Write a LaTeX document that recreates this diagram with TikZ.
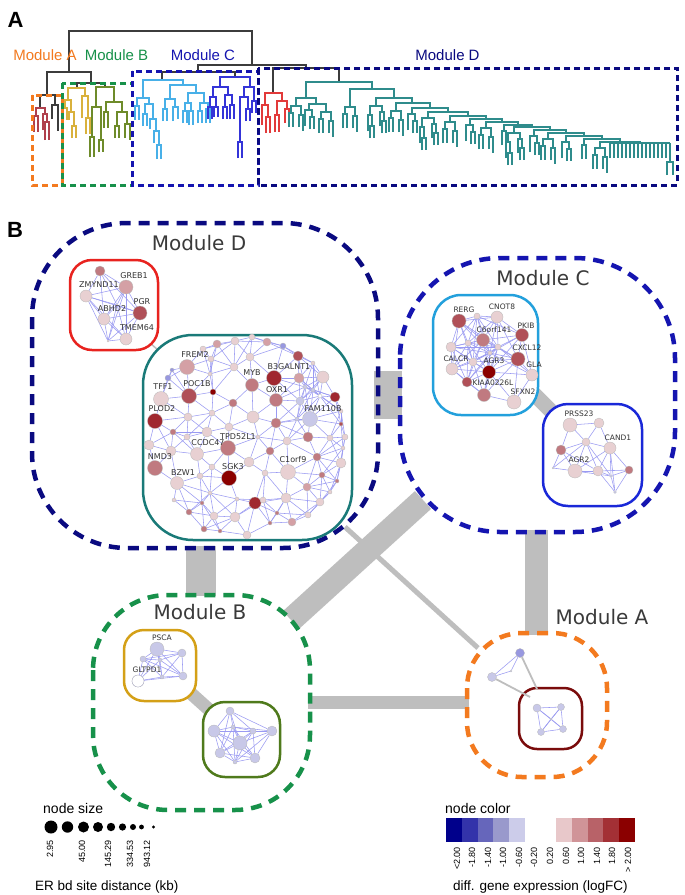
\documentclass[tikz,border=0pt]{standalone}
\usepackage{fontspec}
\setmainfont{Liberation Sans}
\newfontfamily\dv{DejaVu Sans}
\pgfdeclarelayer{back}
\pgfdeclarelayer{bg}
\pgfsetlayers{back,bg,main}
\definecolor{dgray}{HTML}{3C3C3C}
\definecolor{orA}{HTML}{F37A1F}
\definecolor{grB}{HTML}{17914A}
\definecolor{blC}{HTML}{1515B0}
\definecolor{nvD}{HTML}{0A0A80}
\definecolor{trA}{HTML}{B0404C}
\definecolor{trY}{HTML}{D9B13C}
\definecolor{trO}{HTML}{6E8B2A}
\definecolor{trLB}{HTML}{48B0E8}
\definecolor{trB}{HTML}{3434D8}
\definecolor{trR}{HTML}{E23A3A}
\definecolor{trT}{HTML}{2F8C8C}
\definecolor{glinkc}{HTML}{BEBEBE}
\definecolor{edgec}{HTML}{9A9AF2}
\definecolor{labc}{HTML}{333333}
\definecolor{labc2}{HTML}{3A3A3A}
\definecolor{bxR}{HTML}{E8231F}
\definecolor{bxT}{HTML}{1A7A78}
\definecolor{bxLB}{HTML}{23A0DC}
\definecolor{bxB}{HTML}{1A28D8}
\definecolor{bxY}{HTML}{D4A017}
\definecolor{bxO}{HTML}{4F7A1C}
\definecolor{bxDR}{HTML}{7A0C0C}
\definecolor{n0}{HTML}{C8C8E8}
\definecolor{n1}{HTML}{E8D0D2}
\definecolor{n2}{HTML}{D4A0A5}
\definecolor{n3}{HTML}{C07A80}
\definecolor{n4}{HTML}{B05058}
\definecolor{n5}{HTML}{A02830}
\definecolor{n6}{HTML}{8B0000}
\definecolor{nb}{HTML}{9898E0}
\definecolor{nw}{HTML}{FFFFFF}
\definecolor{lc1}{HTML}{00008B}
\definecolor{lc2}{HTML}{3333AA}
\definecolor{lc3}{HTML}{6666BB}
\definecolor{lc4}{HTML}{9999CC}
\definecolor{lc5}{HTML}{CCCCEA}
\definecolor{lc6}{HTML}{E8C8CA}
\definecolor{lc7}{HTML}{D09498}
\definecolor{lc8}{HTML}{B86268}
\definecolor{lc9}{HTML}{A33035}
\definecolor{lc10}{HTML}{8B0000}
\tikzset{
  gn/.style={circle, inner sep=0pt, draw=black!28, line width=0.3pt},
  edge/.style={draw=edgec, line width=0.55pt},
  glink/.style={draw=glinkc, line cap=butt},
  mdash/.style={line width=4.5pt, dash pattern=on 11pt off 8pt},
  adash/.style={line width=3pt, dash pattern=on 6pt off 4pt},
  grp/.style={line width=2.5pt, fill=white},
  gl/.style={font=\dv\fontsize{8}{9}\selectfont, text=labc, inner sep=0pt},
  gls/.style={font=\dv\fontsize{7.5}{9}\selectfont, text=labc, inner sep=0pt},
  ml/.style={font=\dv\fontsize{20}{24}\selectfont, text=labc2, inner sep=0pt},
  al/.style={font=\fontsize{15}{18}\selectfont, inner sep=0pt},
  lg/.style={font=\fontsize{9}{10}\selectfont, rotate=90, anchor=east, inner sep=0pt},
  lt/.style={font=\fontsize{14}{16}\selectfont, anchor=west, inner sep=0pt},
}
\newcommand\U[5]{\draw (#1,#3+#4) -- (#1,#3) -- (#2,#3) -- (#2,#3+#5);}
\newcommand\cA[2]{\begin{scope}[shift={(#1,#2)}]\U{-4}{3}{0}{16}{7}\U{1}{5}{7}{12}{12}\end{scope}}
\newcommand\cB[2]{\begin{scope}[shift={(#1,#2)}]\U{-5}{5}{0}{7}{9}\U{-7}{-3}{7}{14}{14}\U{3}{7}{9}{12}{16}\end{scope}}
\newcommand\cC[2]{\begin{scope}[shift={(#1,#2)}]\U{-2}{2}{0}{14}{14}\end{scope}}
\newcommand\cD[2]{\begin{scope}[shift={(#1,#2)}]\U{-6}{6}{0}{9}{6}\U{-8}{-4}{9}{16}{11}\U{-6}{-2}{20}{12}{12}\U{4}{8}{6}{14}{9}\U{6}{10}{15}{12}{12}\end{scope}}
\newcommand\net[3]{%
  \foreach \px/\py/\pr/\pc [count=\i] in #2 {%
    \node[gn, minimum size={2*\pr}, fill=\pc] (#1\i) at (\px,\py) {};}%
  \begin{pgfonlayer}{bg}%
  \foreach \px/\py/\pr/\pc [count=\i] in #2 {%
    \foreach \qx/\qy/\qr/\qc [count=\j] in #2 {%
      \ifnum\j>\i
        \pgfmathtruncatemacro\ok{veclen(\px-\qx,\py-\qy)<#3}%
        \ifnum\ok=1 \draw[edge] (#1\i) -- (#1\j);\fi
      \fi}}%
  \end{pgfonlayer}}
\def\LDr{100/271/5/n3,126/287/7/n2,86/296/6/n1,140/313/7/n4,104/319/6/n1,126/339/6/n1,108/341/1/n1,117/305/1/n1}
\def\LDt{187/367/7.5/n2,161/399/7.5/n1,189/396/7.5/n4,213/392/3/n6,252/385/6.5/n3,274/378/7.5/n5,276/400/6.5/n3,310/419/7.5/n0,155/421/7.5/n5,197/454/6.5/n1,228/448/7.5/n3,155/468/7.5/n3,177/483/6.5/n1,229/478/7.5/n6,288/472/7.5/n1,255/503/6/n5,217/344/4/n2,235/341/4/n1,252/337/3/n1,267/342/4/n2,283/346/3/nb,298/356/5/n4,313/363/2/n1,323/377/6/n1,299/378/5/n2,335/397/5/n5,300/401/4/n0,320/396/2/nw,297/419/2/n0,341/411/2/n1,341/424/2/n4,345/437/3/n1,343/448/2/n1,330/438/3/n1,308/437/5/n3,287/441/4/n1,276/423/5/n3,253/417/6/n1,229/427/4/n1,207/432/5/n1,212/413/3/n1,188/417/4/n1,173/432/3/n3,187/437/3/n1,149/445/5/n1,171/451/5/n1,270/451/4/n3,258/437/2/n1,249/462/5/n1,265/473/3/n1,317/457/4/n3,341/463/5/n1,322/475/3/n3,337/481/2/n3,307/487/4/n2,330/492/2/n1,286/498/5/n1,320/502/4/n1,308/515/3/n1,292/522/4/n2,277/513/2/n3,270/523/2/n3,263/500/3/n1,247/535/4/n1,235/517/5/n1,220/531/2/n3,214/516/4/n1,204/529/3/n3,202/503/2/n3,189/512/3/n3,174/500/2/n1,210/493/2/n1,200/476/3/n1,212/467/3/n1,237/499/2/n1,234/367/4/n1,210/374/2/n1,211/359/3/n1,203/349/3/n1,233/403/4/n3,250/357/4/n1,172/370/2/nb,168/378/3/nb,313/390/2/n0,305/387/2/n0}
\def\LCa{459/321/7/n4,497/317/6/n1,477/316/3/n1,522/335/6.5/n4,483/340/6.5/n3,468/343/3/n1,451/347/5/n1,498/347/3/n1,490/353/2/n1,518/359/7/n4,452/369/6/n1,473/362/4/n1,489/372/6.5/n6,532/375/6/n1,467/382/5/n4,484/395/6.5/n3,514/402/7/n1}
\def\LCb{570/425/7/n1,599/423/5/n1,586/442/4/n1,610/448/6/n1,561/450/5/n3,575/471/7/n1,598/471/5/n1,629/470/4/n3,611/476/1.5/n0,615/492/1.5/n0,553/468/1/n0}
\def\LBy{157/649/7/n0,182/653/4/n0,143/659/3/n0,160/660/2/n0,138/681/6/nw,162/677/2/n0,183/676/4/n0}
\def\LBo{230/711/4/n0,214/731/6/n0,253/731/3/n0,272/731/5/n0,240/743/7/n0,220/753/5/n0,255/758/5/n0,235/762/2/n0,233/727/2/n0}
\def\LAi{537/708/4/n0,561/707/3.5/n0,563/729/3.5/n0,541/732/3.5/n0,551/719/1/n0}
\def\LAo{520/653/4.5/nb,492/677/4.5/n0,511/671/1/n0}
\begin{document}
\begin{tikzpicture}[x=1pt,y=-1pt]
\useasboundingbox (0,0) rectangle (685,895);
\begin{pgfonlayer}{back}
\fill[white] (0,0) rectangle (685,895);
\end{pgfonlayer}
% ---------------- Part A ----------------
\node[font=\bfseries\fontsize{22}{24}\selectfont, inner sep=0pt] (lblA) at (15.5,20) {A};
\begin{scope}[line width=1.1pt]
\begin{scope}[dgray]
\U{69}{252}{31}{41}{34}
\U{47}{91}{72}{23}{11}
\U{198}{306}{65}{7}{3}
\U{162}{235}{72}{8}{5}
\U{273}{339}{68}{25}{14}
\U{40}{55}{95}{13}{10}
\U{52}{58}{105}{14}{26}
\U{77}{105}{83}{5}{4}
\end{scope}
\begin{scope}[trA]
\U{36}{45}{108}{8}{6}\U{34}{38}{116}{16}{16}\U{43}{47}{114}{16}{8}\U{45}{49}{122}{18}{18}
\end{scope}
\begin{scope}[trY]
\U{68}{85}{88}{12}{8}\U{65}{71}{100}{8}{12}\U{63}{67}{108}{14}{12}\U{69}{74}{112}{8}{14}\U{72}{76}{126}{12}{12}\U{82}{88}{96}{22}{22}\U{86}{90}{118}{16}{16}
\end{scope}
\begin{scope}[trO]
\U{96}{114}{87}{20}{15}\U{92}{101}{107}{30}{33}\U{90}{94}{137}{20}{20}\U{99}{103}{140}{12}{12}\U{106}{122}{102}{10}{10}\U{104}{108}{112}{16}{16}\U{117}{127}{112}{14}{12}\U{115}{119}{126}{12}{12}\U{125}{130}{124}{14}{16}
\end{scope}
\begin{scope}[trLB]
\U{143}{183}{80}{18}{5}\U{170}{196}{85}{14}{8}\U{165}{175}{99}{10}{8}\U{163}{167}{109}{12}{12}\U{173}{178}{107}{14}{12}\U{188}{204}{93}{10}{10}\U{185}{191}{103}{8}{8}\U{183}{187}{111}{12}{12}\U{189}{193}{111}{14}{14}\U{200}{208}{103}{8}{6}\U{198}{202}{111}{12}{12}\U{206}{210}{109}{14}{14}
\U{137}{149}{98}{8}{6}\U{135}{139}{106}{14}{14}\U{145}{153}{104}{10}{15}\U{143}{147}{114}{12}{12}\U{150}{156}{119}{10}{12}\U{154}{159}{131}{12}{14}\U{157}{161}{145}{14}{14}
\end{scope}
\begin{scope}[trB]
\U{220}{250}{77}{10}{10}\U{213}{228}{87}{10}{8}\U{210}{216}{97}{10}{10}\U{208}{212}{107}{12}{12}\U{214}{218}{107}{10}{10}\U{225}{232}{95}{12}{10}\U{223}{227}{107}{12}{12}\U{230}{234}{105}{14}{14}
\U{244}{254}{87}{10}{14}\U{240}{248}{97}{45}{12}\U{238}{242}{142}{16}{16}\U{246}{250}{109}{12}{12}\U{252}{256}{101}{12}{12}
\end{scope}
\begin{scope}[trR]
\U{265}{282}{93}{12}{8}\U{262}{268}{105}{20}{12}\U{266}{270}{117}{16}{16}\U{277}{287}{101}{14}{8}\U{275}{279}{115}{17}{17}\U{285}{289}{109}{14}{14}
\end{scope}
\begin{scope}[trT]
\U{306}{372}{82}{16}{7}
\U{296}{316}{98}{8}{6}\cB{296}{106}\U{309}{326}{104}{6}{8}\cA{309}{110}\cB{326}{112}
\U{350}{394}{89}{18}{9}\cB{350}{107}
\U{376}{412}{98}{8}{5}\cD{376}{106}
\U{396}{430}{103}{8}{5}\cB{396}{111}
\U{412}{448}{108}{6}{4}\cA{412}{114}
\U{428}{468}{112}{6}{4}\cD{428}{118}
\U{450}{486}{116}{6}{3}\cB{450}{122}
\U{470}{502}{119}{6}{3}\cA{470}{125}
\U{486}{518}{122}{6}{3}\cB{486}{128}
\U{504}{532}{125}{6}{2}\cC{504}{131}
\U{514}{550}{127}{6}{3}\cD{514}{133}
\U{534}{566}{130}{6}{3}\cA{534}{136}
\U{548}{584}{133}{6}{3}\cB{548}{139}
\U{566}{602}{136}{6}{3}\cA{566}{142}
\U{584}{620}{139}{6}{3}\cC{584}{145}
\U{600}{640}{142}{6}{1}\cB{600}{148}
\draw (610,143) -- (670,143);
\foreach \k in {610,614,...,666} {\draw (\k,143) -- (\k,158);}
\U{670}{670}{143}{19}{19}
\U{667}{673}{162}{13}{13}
\end{scope}
\end{scope}
\draw[orA, adash] (32,95) rectangle (62,185);
\draw[grB, adash] (62,83) rectangle (132,185);
\draw[blC, adash] (132,71) rectangle (258,185);
\draw[nvD, adash] (258,68) rectangle (677,185);
\node[al, text=orA] (tA) at (45,55) {Module A};
\node[al, text=grB] (tB) at (116.5,55) {Module B};
\node[al, text=blC] (tC) at (203,55) {Module C};
\node[al, text=nvD] (tD) at (447.5,55) {Module D};
% ---------------- Part B ----------------
\node[font=\bfseries\fontsize{22}{24}\selectfont, inner sep=0pt] (lblB) at (15,230) {B};
\begin{pgfonlayer}{back}
\coordinate (dc1) at (374,395); \coordinate (dc2) at (402,395);
\draw[glink, line width=48pt] (dc1) -- (dc2);
\coordinate (db1) at (201,546); \coordinate (db2) at (201,596);
\draw[glink, line width=30pt] (db1) -- (db2);
\coordinate (bc1) at (291,620); \coordinate (bc2) at (423,500);
\draw[glink, line width=24pt] (bc1) -- (bc2);
\coordinate (da1) at (345,527); \coordinate (da2) at (478,648);
\draw[glink, line width=5pt] (da1) -- (da2);
\coordinate (ca1) at (536.5,530); \coordinate (ca2) at (536.5,635);
\draw[glink, line width=23pt] (ca1) -- (ca2);
\coordinate (ba1) at (308,702.5); \coordinate (ba2) at (469,702.5);
\draw[glink, line width=13pt] (ba1) -- (ba2);
\coordinate (rt1) at (150,343); \coordinate (rt2) at (166,357);
\draw[glink, line width=1.5pt] (rt1) -- (rt2);
\coordinate (cc1) at (525,385); \coordinate (cc2) at (568,428);
\draw[glink, line width=15pt] (cc1) -- (cc2);
\coordinate (yo1) at (185,688); \coordinate (yo2) at (215,715);
\draw[glink, line width=13pt] (yo1) -- (yo2);
\draw[nvD, mdash, rounded corners=95pt] (32,223) rectangle (378,548);
\draw[blC, mdash, rounded corners=100pt] (400,258) rectangle (675,532);
\draw[grB, mdash, rounded corners=75pt] (93,595) rectangle (310,810);
\draw[orA, mdash, rounded corners=55pt] (467,633) rectangle (607,777);
\draw[grp, draw=bxR, rounded corners=22pt] (70,260) rectangle (158,350);
\draw[grp, draw=bxT, rounded corners=50pt] (143,335) rectangle (352,540);
\draw[grp, draw=bxLB, rounded corners=28pt] (433,295) rectangle (538,415);
\draw[grp, draw=bxB, rounded corners=25pt] (543,404) rectangle (642,506);
\draw[grp, draw=bxY, rounded corners=20pt] (124,630) rectangle (196,701);
\draw[grp, draw=bxO, rounded corners=22pt] (203,702) rectangle (280,777);
\draw[grp, draw=bxDR, rounded corners=18pt] (519,688) rectangle (582,749);
\end{pgfonlayer}
\node[ml] (mD) at (199,243) {Module D};
\node[ml] (mC) at (543,278) {Module C};
\node[ml] (mB) at (200,612) {Module B};
\node[ml] (mA) at (602,617) {Module A};
\net{dr}{\LDr}{60}
\net{dt}{\LDt}{35}
\net{ca}{\LCa}{50}
\net{cb}{\LCb}{45}
\net{by}{\LBy}{50}
\net{bo}{\LBo}{50}
\net{ai}{\LAi}{40}
\net{ao}{\LAo}{40}
\node[gn, minimum size=12pt, fill=white, draw=n0!80!black] (gltn) at (138,681) {};
\begin{pgfonlayer}{bg}
\coordinate (ab1) at (537,689); \coordinate (ab2) at (530,697);
\draw[glink, line width=1.8pt] (ao1) -- (ab1);
\draw[glink, line width=1.8pt] (ao2) -- (ab2);
\end{pgfonlayer}
% gene labels
\node[gl] (g1) at (134,276) {GREB1};
\node[gl] (g2) at (99,285) {ZMYND11};
\node[gl] (g3) at (142,302) {PGR};
\node[gl] (g4) at (112,309) {ABHD2};
\node[gl] (g5) at (137,328) {TMEM64};
\node[gl] (g6) at (195,355) {FREM2};
\node[gl] (g7) at (163,387) {TFF1};
\node[gl] (g8) at (197,384) {POC1B};
\node[gl] (g9) at (252,373) {MYB};
\node[gl] (g10) at (289,367) {B3GALNT1};
\node[gl] (g11) at (277,390) {OXR1};
\node[gl] (g12) at (323,409) {FAM110B};
\node[gl] (g13) at (162,409) {PLOD2};
\node[gl] (g14) at (208,443) {CCDC47};
\node[gl] (g15) at (238,437) {TPD52L1};
\node[gl] (g16) at (160,457) {NMD3};
\node[gl] (g17) at (183,473) {BZW1};
\node[gl] (g18) at (233,467) {SGK3};
\node[gl] (g19) at (293,460) {C1orf9};
\node[gls] (g20) at (464,310) {RERG};
\node[gls] (g21) at (502,307) {CNOT8};
\node[gls] (g22) at (526,326) {PKIB};
\node[gls] (g23) at (494,330) {C6orf141};
\node[gls] (g24) at (527,348) {CXCL12};
\node[gls] (g25) at (456,359) {CALCR};
\node[gls] (g26) at (494,361) {AGR3};
\node[gls] (g27) at (534,365) {GLA};
\node[gls] (g28) at (493,383) {KIAA0226L};
\node[gls] (g29) at (523,392) {SFXN2};
\node[gls] (g30) at (579,414) {PRSS23};
\node[gls] (g31) at (618,438) {CAND1};
\node[gls] (g32) at (579,460) {AGR2};
\node[gls] (g33) at (162,638) {PSCA};
\node[gls] (g34) at (147,670) {GLTPD1};
% ---------------- Legend ----------------
\node[lt] (ns) at (43,808) {node size};
\foreach \cx/\cr [count=\m] in {51/6.5,67.5/5.7,83.5/5.5,98/5,111/4.2,122.5/3.6,133/3,141.5/2.4,153.5/1.6}
  {\node[circle, fill=black, inner sep=0pt, minimum size={2*\cr}] (sz\m) at (\cx,827) {};}
\node[lg] (s1) at (50,840) {2.95};
\node[lg] (s2) at (82,840) {45.00};
\node[lg] (s3) at (108,840) {145.29};
\node[lg] (s4) at (130,840) {334.53};
\node[lg] (s5) at (147,840) {943.12};
\node[font=\fontsize{13.5}{16}\selectfont, anchor=west, inner sep=0pt] (er) at (35,887) {ER bd site distance (kb)};
\node[lt] (nc) at (445,808) {node color};
\foreach \cl [count=\m] in {lc1,lc2,lc3,lc4,lc5}
  {\fill[\cl] (446+15.8*\m-15.8,818) rectangle (446+15.8*\m,842);}
\foreach \cl [count=\m] in {lc6,lc7,lc8,lc9,lc10}
  {\fill[\cl] (556+15.8*\m-15.8,818) rectangle (556+15.8*\m,842);}
\foreach \tx/\lx [count=\m] in {{<2.00}/457,{-1.80}/472,{-1.40}/488,{-1.00}/503,{-0.60}/519,{-0.20}/534,{0.20}/550,{0.60}/566,{1.00}/581,{1.40}/597,{1.80}/612,{> 2.00}/628}
  {\node[lg] (cl\m) at (\lx,847) {\tx};}
\node[font=\fontsize{13.5}{16}\selectfont, anchor=west, inner sep=0pt] (dg) at (453,887) {diff. gene expression (logFC)};
\end{tikzpicture}
\end{document}
